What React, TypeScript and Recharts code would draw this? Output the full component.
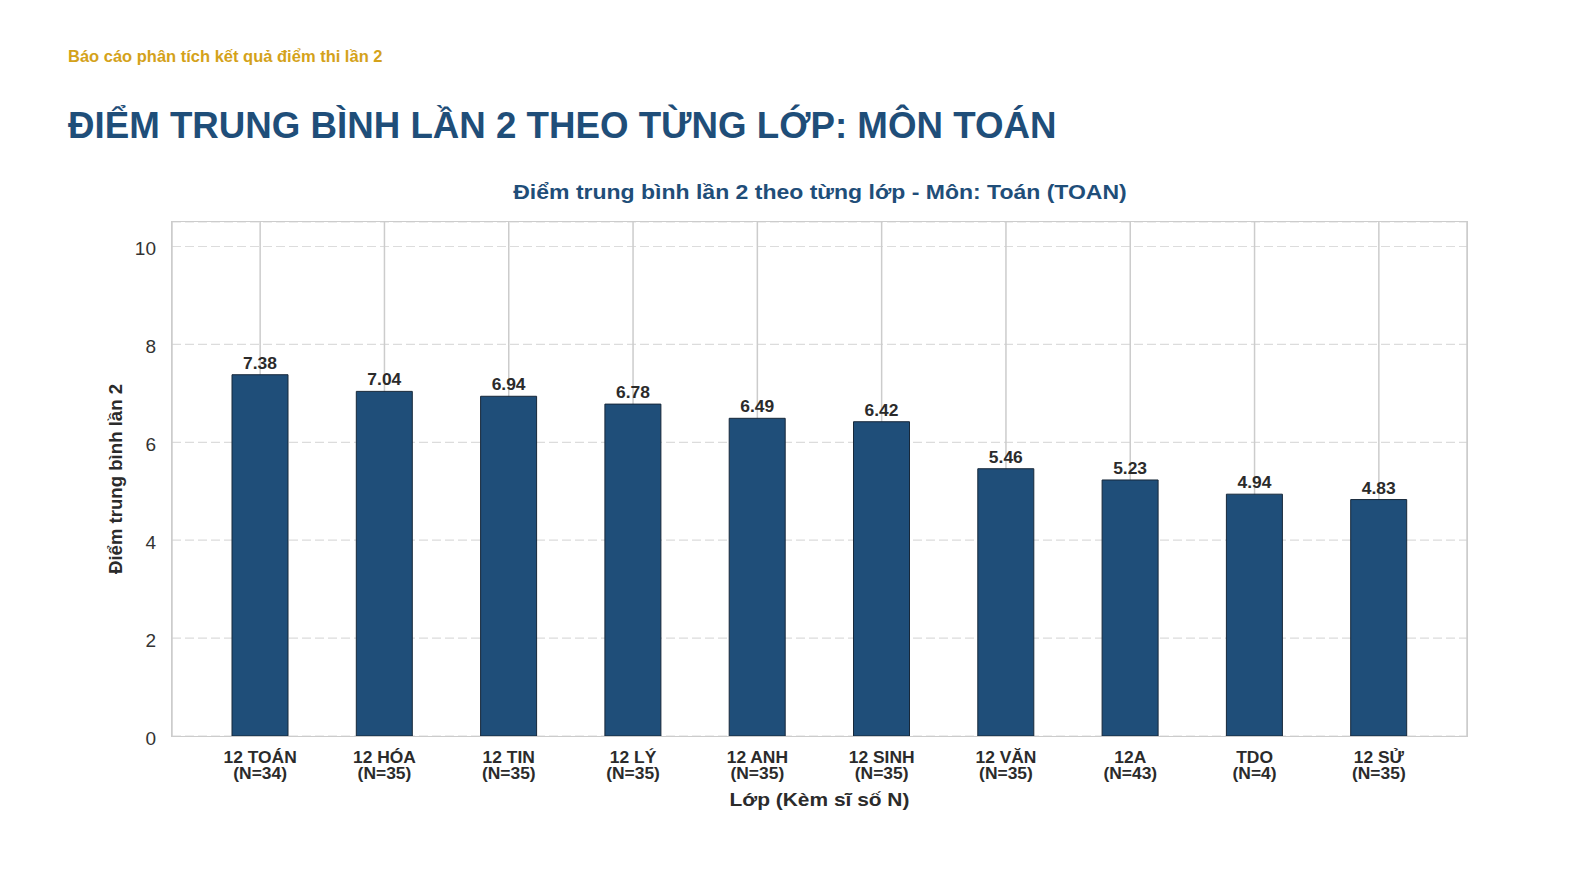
import React from "react";
import { BarChart, Bar, XAxis, YAxis, CartesianGrid, LabelList } from "recharts";

const classNames = ["12 TOÁN", "12 HÓA", "12 TIN", "12 LÝ", "12 ANH", "12 SINH", "12 VĂN", "12A", "TDO", "12 SỬ"];
const classSizes = [34, 35, 35, 35, 35, 35, 35, 43, 4, 35];
const averages = [7.38, 7.04, 6.94, 6.78, 6.49, 6.42, 5.46, 5.23, 4.94, 4.83];
const yTicks = [0, 2, 4, 6, 8, 10];

const data = classNames.map((name, i) => ({ name, n: classSizes[i], value: averages[i] }));

const FONT = '"Liberation Sans", Arial, Helvetica, sans-serif';
const NAVY = "#1f4e79";
const TEXT = "#2b2b2b";
const S = 1.09; // horizontal stretch of the chart image

const XTick = (props: any) => {
  const { x, y, payload } = props;
  const d = data[payload.index];
  return (
    <g transform={`translate(${x} ${y}) scale(${S} 1)`}>
      <text x={0} y={0} textAnchor="middle" fontFamily={FONT} fontWeight="bold" fontSize={16} fill={TEXT}>
        <tspan x={0} dy={27.5}>{d ? d.name : payload.value}</tspan>
        <tspan x={0} dy={15.5}>{`(N=${d ? d.n : ""})`}</tspan>
      </text>
    </g>
  );
};

const YTick = (props: any) => {
  const { x, y, payload } = props;
  return (
    <g transform={`translate(${x} ${y}) scale(${S * 0.97} 1)`}>
      <text x={0} y={8.5} textAnchor="end" fontFamily={FONT} fontSize={18} fill="#333">
        {payload.value}
      </text>
    </g>
  );
};

const ValueLabel = (props: any) => {
  const { x, y, width, value } = props;
  const cx = Number(x) + Number(width) / 2;
  return (
    <g transform={`translate(${cx} ${Number(y) - 6}) scale(${S} 1)`}>
      <text x={0} y={0} textAnchor="middle" fontFamily={FONT} fontWeight="bold" fontSize={16} fill={TEXT}>
        {Number(value).toFixed(2)}
      </text>
    </g>
  );
};

const XLabel = (props: any) => {
  const vb = props.viewBox || {};
  const cx = vb.x + vb.width / 2;
  return (
    <g transform={`translate(${cx} ${vb.y + 70}) scale(${S * 1.01} 1)`}>
      <text x={0} y={0} textAnchor="middle" fontFamily={FONT} fontWeight="bold" fontSize={19} fill={TEXT}>
        Lớp (Kèm sĩ số N)
      </text>
    </g>
  );
};

const YLabel = (props: any) => {
  const vb = props.viewBox || {};
  const cy = vb.y + vb.height / 2;
  const bx = 122;
  return (
    <text
      x={bx}
      y={cy}
      transform={`rotate(-90 ${bx} ${cy})`}
      textAnchor="middle"
      fontFamily={FONT}
      fontWeight="bold"
      fontSize={18.6}
      fill={TEXT}
    >
      Điểm trung bình lần 2
    </text>
  );
};

export default function App() {
  return (
    <div style={{ position: "absolute", left: 0, top: 0, width: 1582, height: 887, overflow: "hidden", background: "#fff", fontFamily: FONT }}>
      <div style={{ position: "absolute", left: 68, top: 47, fontSize: 16.5, lineHeight: "19px", fontWeight: "bold", color: "#d4a21a", whiteSpace: "nowrap" }}>
        Báo cáo phân tích kết quả điểm thi lần 2
      </div>
      <div style={{ position: "absolute", left: 68, top: 105, fontSize: 36.7, lineHeight: "42px", fontWeight: "bold", color: NAVY, whiteSpace: "nowrap" }}>
        ĐIỂM TRUNG BÌNH LẦN 2 THEO TỪNG LỚP: MÔN TOÁN
      </div>
      <div style={{ position: "absolute", left: 320, width: 1000, top: 181, lineHeight: "23px", textAlign: "center", transform: "scaleX(1.15)", transformOrigin: "center", fontSize: 20, fontWeight: "bold", color: NAVY, whiteSpace: "nowrap" }}>
        Điểm trung bình lần 2 theo từng lớp - Môn: Toán (TOAN)
      </div>
      <div style={{ position: "absolute", left: 0, top: 0 }}>
        <BarChart
          width={1582}
          height={887}
          data={data}
          margin={{ top: 222, right: 115, bottom: 91, left: 0 }}
          barSize={56}
        >
          <CartesianGrid vertical={false} stroke="#dcdcdc" strokeDasharray="9 4" strokeWidth={1.2} />
          <CartesianGrid horizontal={false} stroke="#cccccc" strokeWidth={1.5} />
          <XAxis
            dataKey="name"
            type="category"
            padding={{ left: 26, right: 26 }}
            axisLine={false}
            tickLine={false}
            tickSize={0}
            tickMargin={0}
            height={60}
            interval={0}
            tick={<XTick />}
            label={<XLabel />}
          />
          <YAxis
            type="number"
            domain={[0, 10.5]}
            ticks={yTicks}
            width={172}
            axisLine={false}
            tickLine={false}
            tickSize={0}
            tickMargin={16}
            tick={<YTick />}
            label={<YLabel />}
          />
          <Bar dataKey="value" fill={NAVY} stroke="#17283a" strokeWidth={1} isAnimationActive={false}>
            <LabelList dataKey="value" content={<ValueLabel />} />
          </Bar>
        </BarChart>
      </div>
      <div style={{ position: "absolute", left: 171, top: 221, width: 1295, height: 514, border: "1.5px solid #cccccc", pointerEvents: "none" }} />
    </div>
  );
}
